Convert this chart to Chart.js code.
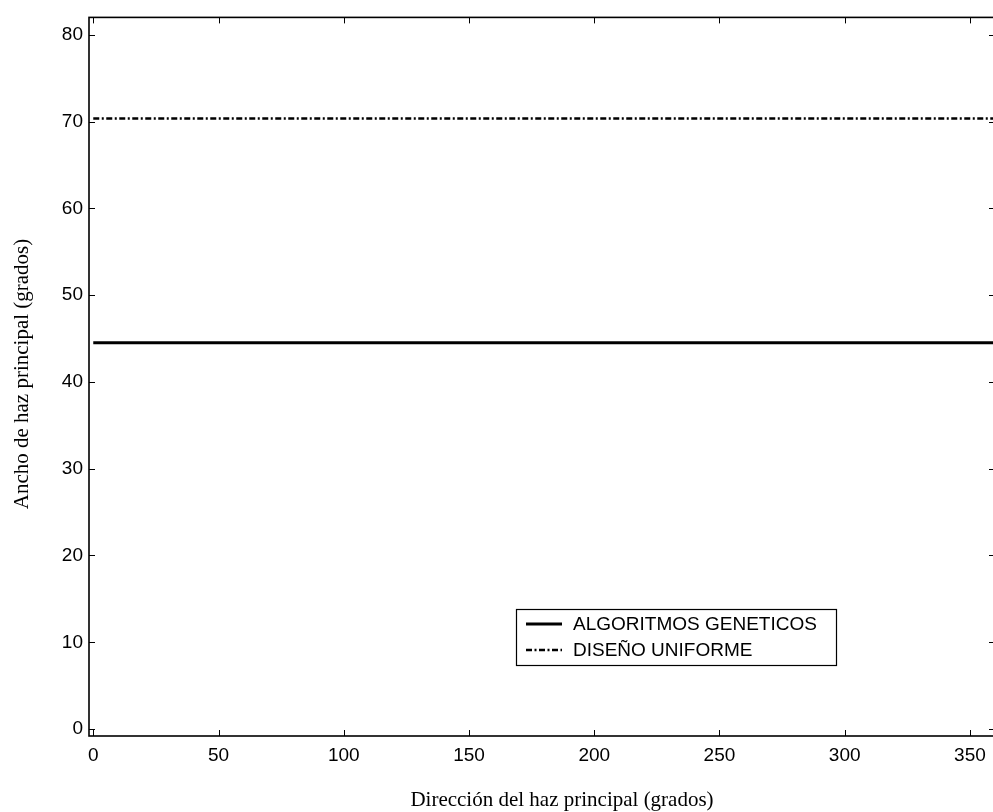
<!DOCTYPE html>
<html>
<head>
<meta charset="utf-8">
<script src="https://cdn.jsdelivr.net/npm/chart.js@4/dist/chart.umd.min.js"></script>
<style>
  html, body { margin: 0; padding: 0; background: #fff; overflow: hidden; }
  #wrap { position: relative; width: 1000px; height: 812px; }
</style>
</head>
<body>
<div id="wrap"><canvas id="chart"></canvas></div>
<script>
// datos
const direccion = [0, 360];
const algoritmosGeneticos = [44.5, 44.5];
const disenoUniforme = [70.35, 70.35];
const xTicks = [0, 50, 100, 150, 200, 250, 300, 350];
const yTicks = [0, 10, 20, 30, 40, 50, 60, 70, 80];

const dashDot = [6, 2.5, 2, 2.5];

// caja, ticks hacia adentro, leyenda y titulos (estilo matlab)
const matlabBox = {
  id: 'matlabBox',
  afterDatasetsDraw(chart) {
    const { ctx, chartArea: a, scales: { x, y } } = chart;
    ctx.save();
    ctx.strokeStyle = '#000';
    ctx.lineWidth = 1;
    ctx.beginPath();
    x.ticks.forEach(t => {
      const px = Math.round(x.getPixelForValue(t.value)) + 0.5;
      ctx.moveTo(px, a.bottom); ctx.lineTo(px, a.bottom - 6);
      ctx.moveTo(px, a.top); ctx.lineTo(px, a.top + 6);
    });
    y.ticks.forEach(t => {
      const py = Math.round(y.getPixelForValue(t.value)) + 0.5;
      ctx.moveTo(a.left, py); ctx.lineTo(a.left + 6, py);
      ctx.moveTo(a.right, py); ctx.lineTo(a.right - 6, py);
    });
    ctx.stroke();

    ctx.lineWidth = 1.6;
    ctx.strokeRect(a.left, a.top, a.right - a.left, a.bottom - a.top);

    // leyenda
    const lx = 516, ly = 609, lw = 320, lh = 56;
    ctx.fillStyle = '#fff';
    ctx.fillRect(lx, ly, lw, lh);
    ctx.lineWidth = 1.2;
    ctx.strokeRect(lx + 0.5, ly + 0.5, lw, lh);
    ctx.font = "19px 'Liberation Sans', Arial, sans-serif";
    ctx.textBaseline = 'middle';
    ctx.fillStyle = '#000';
    chart.data.datasets.forEach((ds, i) => {
      const ry = ly + 15 + i * 26;
      ctx.lineWidth = ds.borderWidth;
      ctx.setLineDash(ds.borderDash || []);
      ctx.beginPath();
      ctx.moveTo(lx + 10, ry); ctx.lineTo(lx + 46, ry);
      ctx.stroke();
      ctx.setLineDash([]);
      ctx.fillText(ds.label, lx + 57, ry + 1);
    });

    // titulos de ejes
    ctx.font = "21px 'Liberation Serif', 'Times New Roman', serif";
    ctx.textAlign = 'center';
    ctx.fillText('Dirección del haz principal (grados)', 562, 800);
    ctx.translate(22, 374);
    ctx.rotate(-Math.PI / 2);
    ctx.fillText('Ancho de haz principal (grados)', 0, 0);
    ctx.restore();
  }
};

const tickFont = { family: "'Liberation Sans', Arial, sans-serif", size: 19 };

new Chart(document.getElementById('chart'), {
  type: 'line',
  data: {
    labels: direccion,
    datasets: [
      {
        label: 'ALGORITMOS GENETICOS',
        data: direccion.map((d, i) => ({ x: d, y: algoritmosGeneticos[i] })),
        borderColor: '#000',
        borderWidth: 3,
        pointRadius: 0,
        fill: false
      },
      {
        label: 'DISEÑO UNIFORME',
        data: direccion.map((d, i) => ({ x: d, y: disenoUniforme[i] })),
        borderColor: '#000',
        borderWidth: 2.6,
        borderDash: dashDot,
        pointRadius: 0,
        fill: false
      }
    ]
  },
  options: {
    responsive: true,
    maintainAspectRatio: false,
    animation: false,
    layout: { padding: { top: 16, right: 5, left: 0, bottom: 0 } },
    plugins: { legend: { display: false }, tooltip: { enabled: false } },
    scales: {
      x: {
        type: 'linear',
        min: -1.7,
        max: 360,
        afterBuildTicks: s => { s.ticks = xTicks.map(v => ({ value: v })); },
        afterFit: s => { s.height = 76; },
        grid: { display: false, drawTicks: false },
        border: { display: false },
        ticks: { color: '#000', font: tickFont, padding: 8, maxRotation: 0 }
      },
      y: {
        min: -0.8,
        max: 82,
        afterBuildTicks: s => { s.ticks = yTicks.map(v => ({ value: v })); },
        afterFit: s => { s.width = 89; },
        grid: { display: false, drawTicks: false },
        border: { display: false },
        ticks: { color: '#000', font: tickFont, padding: 6 }
      }
    }
  },
  plugins: [matlabBox]
});
</script>
</body>
</html>
